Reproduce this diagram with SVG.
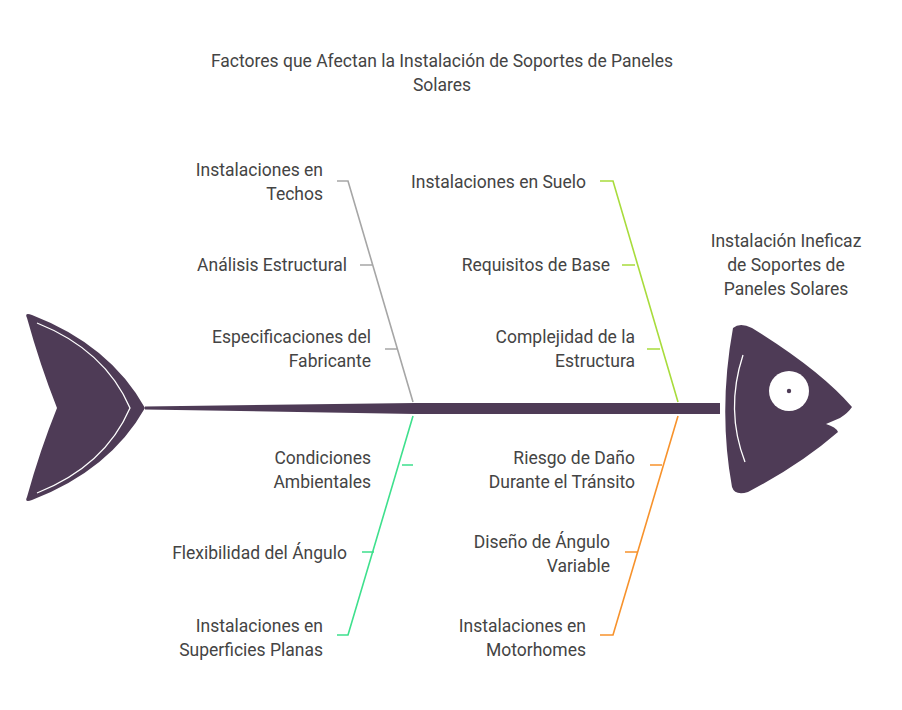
<svg xmlns="http://www.w3.org/2000/svg" width="902" height="710" viewBox="0 0 902 710">
<style>
text{font-family:Roboto,"Liberation Sans",sans-serif;font-size:17.5px;fill:#444}
.r{text-anchor:end}.m{text-anchor:middle}
.b{fill:none;stroke-width:1.6}
.g{stroke:#a6a6a6}.y{stroke:#a8dc3c}.t{stroke:#3ee08d}.o{stroke:#f7922c}
.f{fill:#4e3b56}
</style>
<rect width="902" height="710" fill="#fff"/>
<text class="m" x="442" y="67">Factores que Afectan la Instalación de Soportes de Paneles</text>
<text class="m" x="442" y="91">Solares</text>
<g id="tail"><path class="f" d="M27,318 Q24,312 32,315 Q110,345 145,408 Q110,470 32,500 Q24,503 27,497 Q40,450 57,408 Q40,365 27,318Z"/>
<path d="M37,323 Q105,350 130,408 Q105,466 37,493" fill="none" stroke="#fff" stroke-width="1.3"/></g>
<g id="spine"><polygon class="f" points="145,406.5 145,409.5 415,414 720,414 720,403 415,403"/></g>
<g id="head"><path class="f" d="M733,328 Q740,322 752,328 Q820,370 852,407 Q848,413 840,418 L826,424 Q836,427 838,432 Q800,465 748,492 Q735,496 732,487 Q718,410 733,328Z"/>
<path d="M743,355 Q725,410 745,462" fill="none" stroke="#fff" stroke-width="1.3"/>
<circle cx="789" cy="391" r="20" fill="#fff"/><circle cx="789" cy="391" r="2.2" class="f"/></g>
<g id="connectors">
<path class="b g" d="M337,181H348L413,402M360,265H372M385,349H397"/>
<path class="b y" d="M600,181H613L678,402M622,265H635M647,349H660"/>
<path class="b t" d="M413,416L348,635H337M402,465H413M362,552H374"/>
<path class="b o" d="M678,416L613,635H600M650,465H662M625,552H638"/>
</g>
<g id="n1"><text class="r" x="323" y="176">Instalaciones en</text><text class="r" x="323" y="200">Techos</text></g>
<g id="n2"><text class="r" x="347" y="271">Análisis Estructural</text></g>
<g id="n3"><text class="r" x="371" y="343">Especificaciones del</text><text class="r" x="371" y="367">Fabricante</text></g>
<g id="n4"><text class="r" x="586" y="188">Instalaciones en Suelo</text></g>
<g id="n5"><text class="r" x="610" y="271">Requisitos de Base</text></g>
<g id="n6"><text class="r" x="635" y="343">Complejidad de la</text><text class="r" x="635" y="367">Estructura</text></g>
<g id="n7"><text class="r" x="371" y="464">Condiciones</text><text class="r" x="371" y="488">Ambientales</text></g>
<g id="n8"><text class="r" x="347" y="559">Flexibilidad del Ángulo</text></g>
<g id="n9"><text class="r" x="323" y="632">Instalaciones en</text><text class="r" x="323" y="656">Superficies Planas</text></g>
<g id="n10"><text class="r" x="635" y="464">Riesgo de Daño</text><text class="r" x="635" y="488">Durante el Tránsito</text></g>
<g id="n11"><text class="r" x="610" y="548">Diseño de Ángulo</text><text class="r" x="610" y="572">Variable</text></g>
<g id="n12"><text class="r" x="586" y="632">Instalaciones en</text><text class="r" x="586" y="656">Motorhomes</text></g>
<g id="effect"><text class="m" x="786" y="247">Instalación Ineficaz</text><text class="m" x="786" y="271">de Soportes de</text><text class="m" x="786" y="295">Paneles Solares</text></g>
</svg>
